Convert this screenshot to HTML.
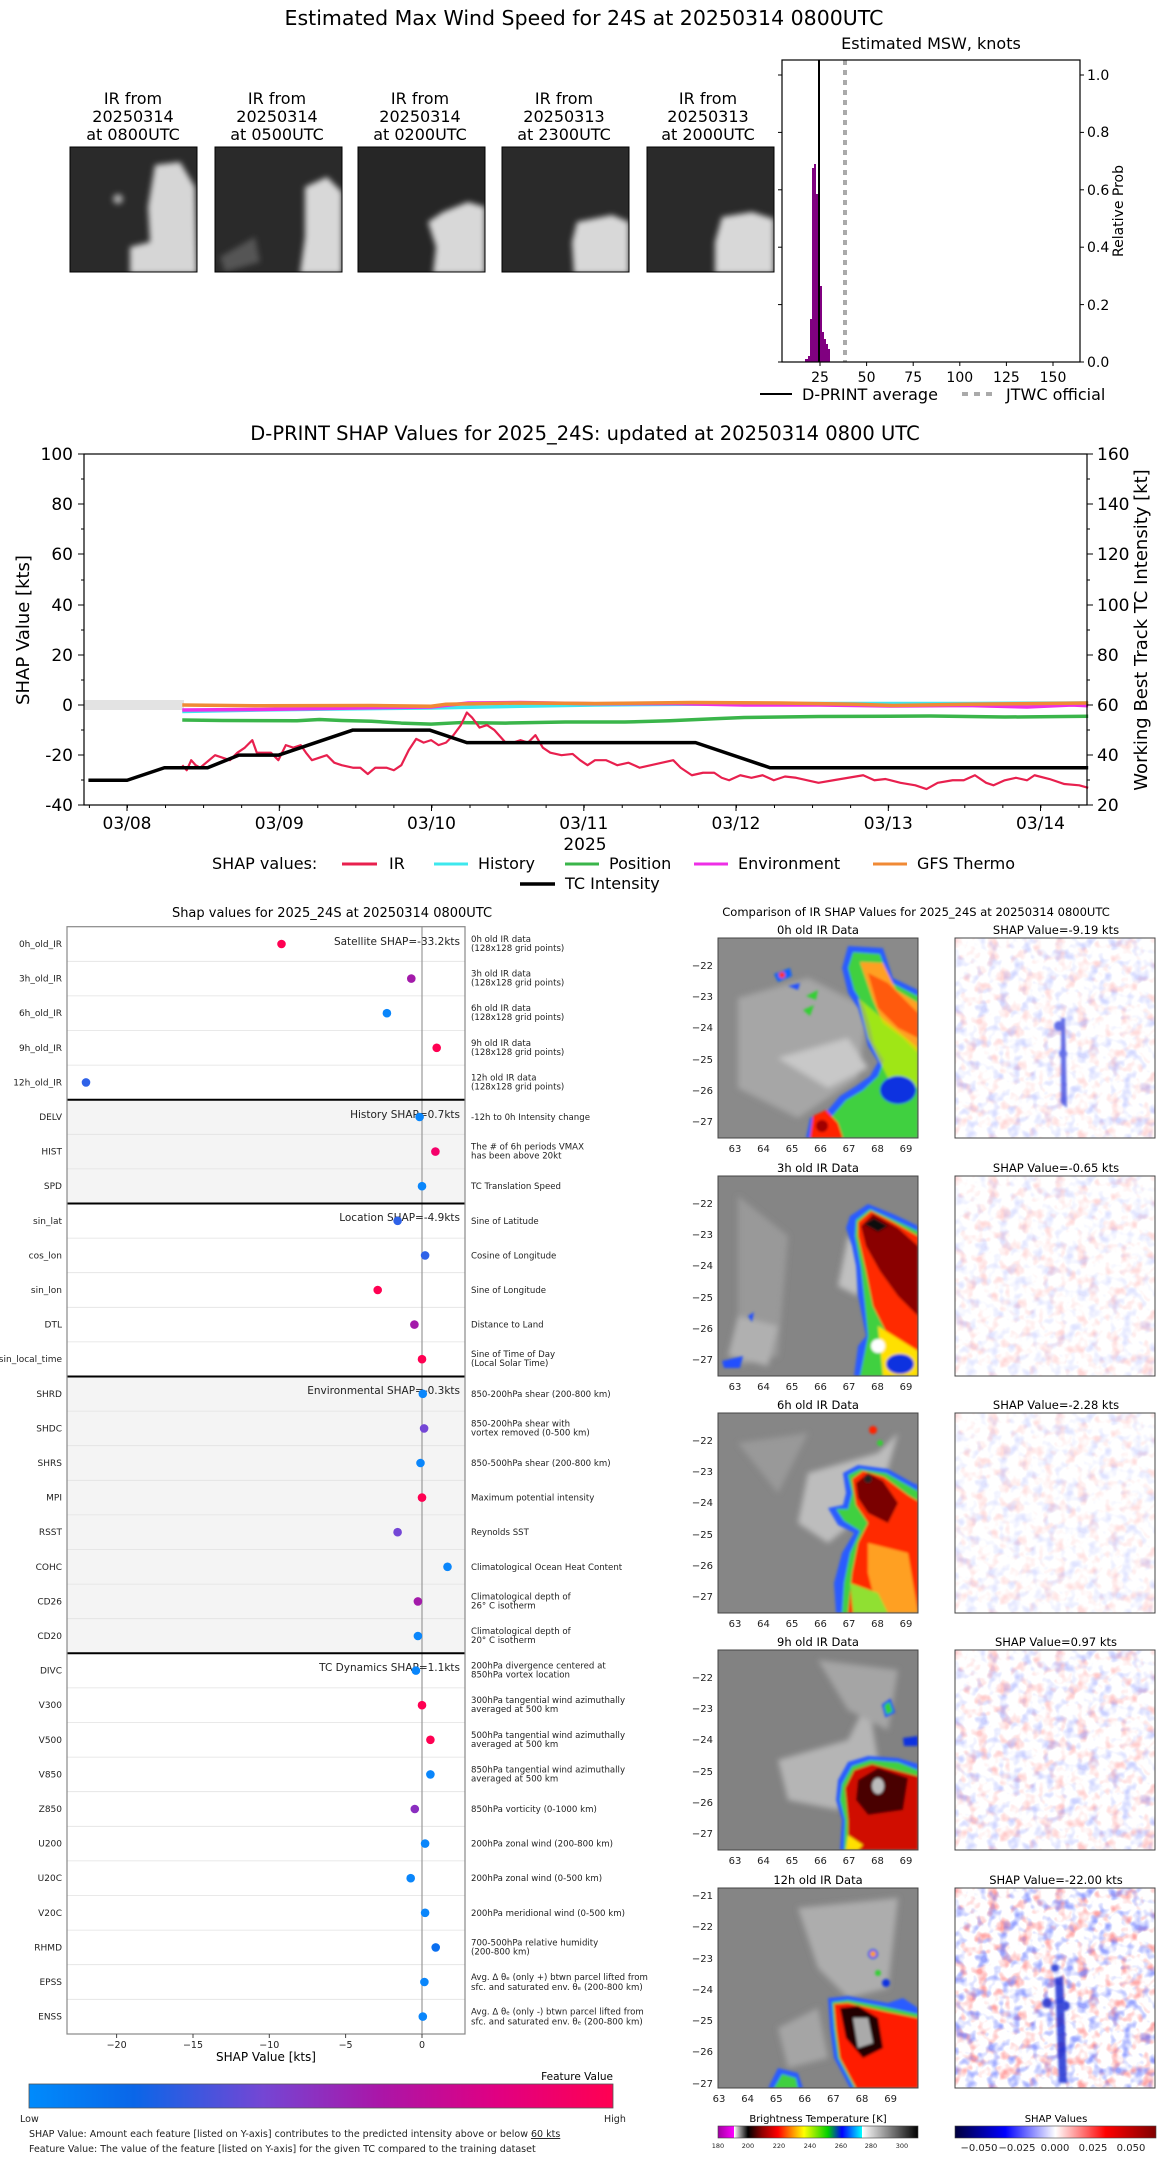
<!DOCTYPE html>
<html><head><meta charset="utf-8"><style>
html,body{margin:0;padding:0;background:#fff;}
svg{display:block;font-family:"DejaVu Sans","Liberation Sans",sans-serif;}
</style></head><body>
<svg width="1168" height="2158" viewBox="0 0 1168 2158" xmlns="http://www.w3.org/2000/svg">
<defs>
<filter id="bl" x="-20%" y="-20%" width="140%" height="140%"><feGaussianBlur stdDeviation="3"/></filter>
<filter id="bl1"><feGaussianBlur stdDeviation="1.2"/></filter>
<clipPath id="c200"><rect x="0" y="0" width="200" height="200"/></clipPath>
<clipPath id="cth"><rect x="0" y="0" width="127" height="125"/></clipPath>
<filter id="noiseR" x="0" y="0" width="100%" height="100%"><feTurbulence type="fractalNoise" baseFrequency="0.09" numOctaves="2" seed="4"/><feColorMatrix type="matrix" values="0 0 0 0 1  0 0 0 0 0.15  0 0 0 0 0.15  3.5 0 0 0 -1.75"/></filter>
<filter id="noiseB" x="0" y="0" width="100%" height="100%"><feTurbulence type="fractalNoise" baseFrequency="0.09" numOctaves="2" seed="9"/><feColorMatrix type="matrix" values="0 0 0 0 0.1  0 0 0 0 0.15  0 0 0 0 1  0 3.5 0 0 -1.75"/></filter>
<linearGradient id="fv" x1="0" x2="1"><stop offset="0" stop-color="#008bfc"/><stop offset="0.18" stop-color="#0a66e8"/><stop offset="0.4" stop-color="#7446d4"/><stop offset="0.6" stop-color="#aa16a8"/><stop offset="0.8" stop-color="#e00082"/><stop offset="1" stop-color="#ff0052"/></linearGradient>
<linearGradient id="bt" x1="0" x2="1"><stop offset="0" stop-color="#a000a0"/><stop offset="0.08" stop-color="#ff00ff"/><stop offset="0.081" stop-color="#ffffff"/><stop offset="0.15" stop-color="#000"/><stop offset="0.22" stop-color="#900000"/><stop offset="0.3" stop-color="#ff0000"/><stop offset="0.38" stop-color="#ffa000"/><stop offset="0.43" stop-color="#ffff00"/><stop offset="0.55" stop-color="#00d000"/><stop offset="0.62" stop-color="#0000ff"/><stop offset="0.72" stop-color="#00ffff"/><stop offset="0.721" stop-color="#ffffff"/><stop offset="1" stop-color="#000"/></linearGradient>
<linearGradient id="sv" x1="0" x2="1"><stop offset="0" stop-color="#00003c"/><stop offset="0.25" stop-color="#0000ff"/><stop offset="0.5" stop-color="#ffffff"/><stop offset="0.75" stop-color="#ff0000"/><stop offset="1" stop-color="#800000"/></linearGradient>
</defs>

<!-- ===== TOP ===== -->
<text x="584" y="25" font-size="20.5" text-anchor="middle">Estimated Max Wind Speed for 24S at 20250314 0800UTC</text>
<g font-size="16" text-anchor="middle">
<text x="133" y="104">IR from</text><text x="133" y="122">20250314</text><text x="133" y="140">at 0800UTC</text>
<text x="277" y="104">IR from</text><text x="277" y="122">20250314</text><text x="277" y="140">at 0500UTC</text>
<text x="420" y="104">IR from</text><text x="420" y="122">20250314</text><text x="420" y="140">at 0200UTC</text>
<text x="564" y="104">IR from</text><text x="564" y="122">20250313</text><text x="564" y="140">at 2300UTC</text>
<text x="708" y="104">IR from</text><text x="708" y="122">20250313</text><text x="708" y="140">at 2000UTC</text>
</g>
<g transform="translate(70,147)"><g clip-path="url(#cth)"><rect width="127" height="125" fill="#2a2a2a"/><g filter="url(#bl)" fill="#d6d6d6"><path d="M85 18 L110 15 L125 40 L127 127 L60 127 L60 100 L80 95 L78 60 Z"/><circle cx="48" cy="52" r="5" fill="#aaa"/></g></g><rect width="127" height="125" fill="none" stroke="#000"/></g>
<g transform="translate(215,147)"><g clip-path="url(#cth)"><rect width="127" height="125" fill="#2a2a2a"/><g filter="url(#bl)" fill="#d8d8d8"><path d="M90 40 L112 30 L127 45 L127 127 L85 127 L90 90 Z"/><path d="M5 110 L40 90 L45 115 L10 125Z" fill="#555"/></g></g><rect width="127" height="125" fill="none" stroke="#000"/></g>
<g transform="translate(358,147)"><g clip-path="url(#cth)"><rect width="127" height="125" fill="#262626"/><g filter="url(#bl)" fill="#d8d8d8"><path d="M85 65 L110 55 L127 60 L127 127 L75 127 L78 100 L70 75 Z"/></g></g><rect width="127" height="125" fill="none" stroke="#000"/></g>
<g transform="translate(502,147)"><g clip-path="url(#cth)"><rect width="127" height="125" fill="#2a2a2a"/><g filter="url(#bl)" fill="#d8d8d8"><path d="M75 75 L110 68 L127 75 L127 127 L72 127 L70 95 Z"/></g></g><rect width="127" height="125" fill="none" stroke="#000"/></g>
<g transform="translate(647,147)"><g clip-path="url(#cth)"><rect width="127" height="125" fill="#2a2a2a"/><g filter="url(#bl)" fill="#d8d8d8"><path d="M75 70 L105 65 L127 72 L127 127 L68 127 L68 95 Z"/></g></g><rect width="127" height="125" fill="none" stroke="#000"/></g>

<!-- histogram -->
<text x="931" y="49" font-size="16" text-anchor="middle">Estimated MSW, knots</text>
<g fill="#800080" transform="translate(-7,-3)">
<rect x="812" y="362" width="3" height="3"/><rect x="815" y="359" width="2" height="6"/><rect x="817" y="322" width="2" height="43"/><rect x="819" y="171" width="2" height="194"/><rect x="821" y="167" width="2" height="198"/><rect x="823" y="197" width="2" height="168"/><rect x="825" y="272" width="2" height="93"/><rect x="827" y="289" width="2" height="76"/><rect x="829" y="335" width="2" height="30"/><rect x="831" y="342" width="2" height="23"/><rect x="833" y="347" width="2" height="18"/><rect x="835" y="352" width="2" height="13"/>
</g>
<line x1="819" y1="60" x2="819" y2="362" stroke="#000" stroke-width="2"/>
<line x1="845" y1="60" x2="845" y2="362" stroke="#aaa" stroke-width="4" stroke-dasharray="5,5"/>
<rect x="782" y="60" width="298" height="302" fill="none" stroke="#000" stroke-width="1.2"/>
<g stroke="#000"><line x1="820" y1="362" x2="820" y2="366"/><line x1="866.6" y1="362" x2="866.6" y2="366"/><line x1="913.2" y1="362" x2="913.2" y2="366"/><line x1="959.8" y1="362" x2="959.8" y2="366"/><line x1="1006.4" y1="362" x2="1006.4" y2="366"/><line x1="1053" y1="362" x2="1053" y2="366"/>
<line x1="1080" y1="75" x2="1084" y2="75"/><line x1="1080" y1="132.4" x2="1084" y2="132.4"/><line x1="1080" y1="189.8" x2="1084" y2="189.8"/><line x1="1080" y1="247.2" x2="1084" y2="247.2"/><line x1="1080" y1="304.6" x2="1084" y2="304.6"/><line x1="1080" y1="362" x2="1084" y2="362"/>
<line x1="778" y1="75" x2="782" y2="75"/><line x1="778" y1="132.4" x2="782" y2="132.4"/><line x1="778" y1="189.8" x2="782" y2="189.8"/><line x1="778" y1="247.2" x2="782" y2="247.2"/><line x1="778" y1="304.6" x2="782" y2="304.6"/><line x1="778" y1="362" x2="782" y2="362"/></g>
<g font-size="14" text-anchor="middle"><text x="820" y="382">25</text><text x="866.6" y="382">50</text><text x="913.2" y="382">75</text><text x="959.8" y="382">100</text><text x="1006.4" y="382">125</text><text x="1053" y="382">150</text></g>
<g font-size="14"><text x="1087" y="80">1.0</text><text x="1087" y="137">0.8</text><text x="1087" y="195">0.6</text><text x="1087" y="252">0.4</text><text x="1087" y="310">0.2</text><text x="1087" y="367">0.0</text></g>
<text transform="translate(1123,211) rotate(-90)" font-size="14" text-anchor="middle">Relative Prob</text>
<line x1="760" y1="394" x2="792" y2="394" stroke="#000" stroke-width="2"/>
<text x="802" y="400" font-size="16">D-PRINT average</text>
<line x1="962" y1="394" x2="996" y2="394" stroke="#aaa" stroke-width="4" stroke-dasharray="6,6"/>
<text x="1006" y="400" font-size="16">JTWC official</text>

<!-- ===== MIDDLE CHART ===== -->
<text x="585" y="440" font-size="19.5" text-anchor="middle">D-PRINT SHAP Values for 2025_24S: updated at 20250314 0800 UTC</text>
<rect x="84" y="700" width="100" height="10" fill="#e3e3e3"/>
<g transform="translate(-1,705) scale(0.745,2.509)" fill="none" stroke-linejoin="round">
<polyline vector-effect="non-scaling-stroke" stroke="#3de8ee" stroke-width="3.5" points="246,2.6 350,2 450,1.6 580,1.2 700,0.5 800,0 920,-0.3 1100,-0.6 1300,-0.6 1462,-0.8"/>
<polyline vector-effect="non-scaling-stroke" stroke="#ee2fe6" stroke-width="3.5" points="246,2 350,1.8 480,1.2 580,0.8 630,-0.8 700,-1 800,-0.5 900,-0.6 1000,0 1100,0 1200,0.4 1300,0.2 1380,0.8 1440,0 1462,0.3"/>
<polyline vector-effect="non-scaling-stroke" stroke="#f08a35" stroke-width="3.5" points="246,0 350,0.3 500,0.2 580,0.5 600,-0.3 700,-0.8 800,-0.6 930,-1 1050,-0.8 1150,-0.3 1200,0.2 1300,-0.3 1400,-0.6 1462,-0.8"/>
<polyline vector-effect="non-scaling-stroke" stroke="#3ab54a" stroke-width="3.5" points="246,6 300,6.2 400,6.3 430,5.8 460,6.2 500,6.5 540,7.2 580,7.6 620,7 680,7.2 760,6.8 840,6.8 900,6.3 960,5.5 1000,5 1100,4.6 1250,4.4 1350,4.8 1462,4.5"/>
<polyline vector-effect="non-scaling-stroke" stroke="#e8204e" stroke-width="2.2" points="246,24 252,26 258,22 264,24 270,25 278,23 290,20 300,21 310,22 320,19 330,17 340,14 346,19 355,19 365,19 375,22 385,16 395,17 405,16 412,19 420,22 430,21 440,20 450,23 460,24 475,25 485,25 495,27.5 505,25 520,25 530,26 540,24 550,18 560,13.5 570,15 580,14 590,16 600,15 610,12 620,8 628,3 635,5 645,9 655,8 665,10 680,15 690,15 700,14 710,15 720,12 730,17 740,19 755,20 770,19.5 780,22 790,24 800,22 815,22 830,24 845,23 860,25 875,24 890,23 905,22 915,25 930,28 945,27 960,27 970,29 980,30 995,28 1010,29 1025,28 1040,30 1055,28.5 1070,29 1085,30 1100,31 1120,30 1140,29 1160,28 1175,30 1190,29.5 1210,31 1230,32 1245,33.5 1260,31 1280,30 1295,30 1310,28 1325,31 1335,32 1350,30 1365,29 1380,30 1390,28 1410,29.5 1430,31.5 1450,32 1462,33"/>
<polyline vector-effect="non-scaling-stroke" stroke="#000" stroke-width="3.5" points="120,30 172,30 222,25 280,25 322,20 375,20 475,10 578,10 628,15 935,15 1035,25 1462,25"/>
</g>
<rect x="84" y="454" width="1003" height="351" fill="none" stroke="#000" stroke-width="1.2"/>
<g stroke="#000">
<line x1="78" y1="454" x2="84" y2="454"/><line x1="78" y1="504" x2="84" y2="504"/><line x1="78" y1="554" x2="84" y2="554"/><line x1="78" y1="605" x2="84" y2="605"/><line x1="78" y1="655" x2="84" y2="655"/><line x1="78" y1="705" x2="84" y2="705"/><line x1="78" y1="755" x2="84" y2="755"/><line x1="78" y1="805" x2="84" y2="805"/>
<line x1="81" y1="479" x2="84" y2="479"/><line x1="81" y1="529" x2="84" y2="529"/><line x1="81" y1="580" x2="84" y2="580"/><line x1="81" y1="630" x2="84" y2="630"/><line x1="81" y1="680" x2="84" y2="680"/><line x1="81" y1="730" x2="84" y2="730"/><line x1="81" y1="780" x2="84" y2="780"/>
<line x1="1087" y1="454" x2="1093" y2="454"/><line x1="1087" y1="504" x2="1093" y2="504"/><line x1="1087" y1="554" x2="1093" y2="554"/><line x1="1087" y1="605" x2="1093" y2="605"/><line x1="1087" y1="655" x2="1093" y2="655"/><line x1="1087" y1="705" x2="1093" y2="705"/><line x1="1087" y1="755" x2="1093" y2="755"/><line x1="1087" y1="805" x2="1093" y2="805"/>
<line x1="1087" y1="479" x2="1090" y2="479"/><line x1="1087" y1="529" x2="1090" y2="529"/><line x1="1087" y1="580" x2="1090" y2="580"/><line x1="1087" y1="630" x2="1090" y2="630"/><line x1="1087" y1="680" x2="1090" y2="680"/><line x1="1087" y1="730" x2="1090" y2="730"/><line x1="1087" y1="780" x2="1090" y2="780"/>
<line x1="127" y1="805" x2="127" y2="811"/><line x1="279.3" y1="805" x2="279.3" y2="811"/><line x1="431.5" y1="805" x2="431.5" y2="811"/><line x1="583.8" y1="805" x2="583.8" y2="811"/><line x1="736" y1="805" x2="736" y2="811"/><line x1="888.3" y1="805" x2="888.3" y2="811"/><line x1="1040.5" y1="805" x2="1040.5" y2="811"/>
</g>
<line x1="88.9" y1="806.5" x2="1087" y2="806.5" stroke="#000" stroke-width="3" stroke-dasharray="1,37.06"/>
<g font-size="17" text-anchor="end"><text x="73" y="460">100</text><text x="73" y="510">80</text><text x="73" y="560">60</text><text x="73" y="611">40</text><text x="73" y="661">20</text><text x="73" y="711">0</text><text x="73" y="761">-20</text><text x="73" y="811">-40</text></g>
<g font-size="17"><text x="1097" y="460">160</text><text x="1097" y="510">140</text><text x="1097" y="560">120</text><text x="1097" y="611">100</text><text x="1097" y="661">80</text><text x="1097" y="711">60</text><text x="1097" y="761">40</text><text x="1097" y="811">20</text></g>
<g font-size="17" text-anchor="middle"><text x="127" y="829">03/08</text><text x="279.3" y="829">03/09</text><text x="431.5" y="829">03/10</text><text x="583.8" y="829">03/11</text><text x="736" y="829">03/12</text><text x="888.3" y="829">03/13</text><text x="1040.5" y="829">03/14</text>
<text x="585" y="850">2025</text></g>
<text transform="translate(29,630) rotate(-90)" font-size="18" text-anchor="middle">SHAP Value [kts]</text>
<text transform="translate(1147,630) rotate(-90)" font-size="18" text-anchor="middle">Working Best Track TC Intensity [kt]</text>
<g font-size="16">
<text x="212" y="869">SHAP values:</text>
<line x1="342" y1="864" x2="377" y2="864" stroke="#e8204e" stroke-width="3"/><text x="389" y="869">IR</text>
<line x1="434" y1="864" x2="468" y2="864" stroke="#3de8ee" stroke-width="3"/><text x="478" y="869">History</text>
<line x1="565" y1="864" x2="599" y2="864" stroke="#3ab54a" stroke-width="3"/><text x="609" y="869">Position</text>
<line x1="694" y1="864" x2="728" y2="864" stroke="#ee2fe6" stroke-width="3"/><text x="738" y="869">Environment</text>
<line x1="873" y1="864" x2="907" y2="864" stroke="#f08a35" stroke-width="3"/><text x="917" y="869">GFS Thermo</text>
<line x1="520" y1="884" x2="555" y2="884" stroke="#000" stroke-width="3.5"/><text x="565" y="889">TC Intensity</text>
</g>

<!-- ===== DOT PLOT ===== -->
<text x="332" y="917" font-size="13" text-anchor="middle">Shap values for 2025_24S at 20250314 0800UTC</text>
<rect x="67" y="1099.7" width="398" height="103.8" fill="#f4f4f4"/>
<rect x="67" y="1376.5" width="398" height="276.8" fill="#f4f4f4"/>
<g stroke="#e2e2e2" stroke-width="0.8">
<line x1="67" y1="961.3" x2="465" y2="961.3"/><line x1="67" y1="995.9" x2="465" y2="995.9"/><line x1="67" y1="1030.5" x2="465" y2="1030.5"/><line x1="67" y1="1065.1" x2="465" y2="1065.1"/><line x1="67" y1="1134.3" x2="465" y2="1134.3"/><line x1="67" y1="1168.9" x2="465" y2="1168.9"/><line x1="67" y1="1238.1" x2="465" y2="1238.1"/><line x1="67" y1="1272.7" x2="465" y2="1272.7"/><line x1="67" y1="1307.3" x2="465" y2="1307.3"/><line x1="67" y1="1341.9" x2="465" y2="1341.9"/><line x1="67" y1="1411.1" x2="465" y2="1411.1"/><line x1="67" y1="1445.7" x2="465" y2="1445.7"/><line x1="67" y1="1480.3" x2="465" y2="1480.3"/><line x1="67" y1="1514.9" x2="465" y2="1514.9"/><line x1="67" y1="1549.5" x2="465" y2="1549.5"/><line x1="67" y1="1584.1" x2="465" y2="1584.1"/><line x1="67" y1="1618.7" x2="465" y2="1618.7"/><line x1="67" y1="1687.9" x2="465" y2="1687.9"/><line x1="67" y1="1722.5" x2="465" y2="1722.5"/><line x1="67" y1="1757.1" x2="465" y2="1757.1"/><line x1="67" y1="1791.7" x2="465" y2="1791.7"/><line x1="67" y1="1826.3" x2="465" y2="1826.3"/><line x1="67" y1="1860.9" x2="465" y2="1860.9"/><line x1="67" y1="1895.5" x2="465" y2="1895.5"/><line x1="67" y1="1930.1" x2="465" y2="1930.1"/><line x1="67" y1="1964.7" x2="465" y2="1964.7"/><line x1="67" y1="1999.3" x2="465" y2="1999.3"/>
</g>
<line x1="422" y1="926.7" x2="422" y2="2034" stroke="#999" stroke-width="1.2"/>
<g stroke="#000" stroke-width="2"><line x1="67" y1="1099.7" x2="465" y2="1099.7"/><line x1="67" y1="1203.5" x2="465" y2="1203.5"/><line x1="67" y1="1376.5" x2="465" y2="1376.5"/><line x1="67" y1="1653.3" x2="465" y2="1653.3"/></g>
<rect x="67" y="926.7" width="398" height="1107.3" fill="none" stroke="#888" stroke-width="1.2"/>
<g font-size="10.5" text-anchor="end" fill="#222">
<text x="460" y="945">Satellite SHAP=-33.2kts</text>
<text x="460" y="1118">History SHAP=0.7kts</text>
<text x="460" y="1221">Location SHAP=-4.9kts</text>
<text x="460" y="1394">Environmental SHAP=-0.3kts</text>
<text x="460" y="1671">TC Dynamics SHAP=1.1kts</text>
</g>
<g>
<circle cx="281.5" cy="944" r="4.3" fill="#ff0052"/>
<circle cx="411.3" cy="978.6" r="4.3" fill="#a31aaa"/>
<circle cx="386.9" cy="1013.2" r="4.3" fill="#0a86fb"/>
<circle cx="436.7" cy="1047.8" r="4.3" fill="#ff0052"/>
<circle cx="86" cy="1082.4" r="4.3" fill="#2f62e8"/>
<circle cx="419.6" cy="1117" r="4.3" fill="#0a86fb"/>
<circle cx="435.4" cy="1151.6" r="4.3" fill="#f5006a"/>
<circle cx="422" cy="1186.2" r="4.3" fill="#0a86fb"/>
<circle cx="397.6" cy="1220.8" r="4.3" fill="#2f62e8"/>
<circle cx="425.1" cy="1255.4" r="4.3" fill="#2f62e8"/>
<circle cx="377.7" cy="1290" r="4.3" fill="#ff0052"/>
<circle cx="414.4" cy="1324.6" r="4.3" fill="#a31aaa"/>
<circle cx="422" cy="1359.2" r="4.3" fill="#ff0052"/>
<circle cx="422.8" cy="1393.8" r="4.3" fill="#0a86fb"/>
<circle cx="424.1" cy="1428.4" r="4.3" fill="#7446d6"/>
<circle cx="420.5" cy="1463" r="4.3" fill="#0a86fb"/>
<circle cx="422" cy="1497.6" r="4.3" fill="#ff0052"/>
<circle cx="397.6" cy="1532.2" r="4.3" fill="#7446d6"/>
<circle cx="447.5" cy="1566.8" r="4.3" fill="#0a86fb"/>
<circle cx="417.9" cy="1601.4" r="4.3" fill="#a31aaa"/>
<circle cx="417.9" cy="1636" r="4.3" fill="#0a86fb"/>
<circle cx="415.9" cy="1670.6" r="4.3" fill="#0a86fb"/>
<circle cx="422" cy="1705.2" r="4.3" fill="#ff0052"/>
<circle cx="430.4" cy="1739.8" r="4.3" fill="#ff0052"/>
<circle cx="430.4" cy="1774.4" r="4.3" fill="#0a86fb"/>
<circle cx="414.8" cy="1809" r="4.3" fill="#8a2ec0"/>
<circle cx="425.1" cy="1843.6" r="4.3" fill="#0a86fb"/>
<circle cx="410.7" cy="1878.2" r="4.3" fill="#0a86fb"/>
<circle cx="425.1" cy="1912.8" r="4.3" fill="#0a86fb"/>
<circle cx="435.7" cy="1947.4" r="4.3" fill="#0a6ff0"/>
<circle cx="424.4" cy="1982" r="4.3" fill="#0a86fb"/>
<circle cx="422.8" cy="2016.6" r="4.3" fill="#0a86fb"/>
</g>
<g font-size="9" text-anchor="end" fill="#222">
<text x="62" y="947">0h_old_IR</text><text x="62" y="981.6">3h_old_IR</text><text x="62" y="1016.2">6h_old_IR</text><text x="62" y="1050.8">9h_old_IR</text><text x="62" y="1085.4">12h_old_IR</text>
<text x="62" y="1120">DELV</text><text x="62" y="1154.6">HIST</text><text x="62" y="1189.2">SPD</text>
<text x="62" y="1223.8">sin_lat</text><text x="62" y="1258.4">cos_lon</text><text x="62" y="1293">sin_lon</text><text x="62" y="1327.6">DTL</text><text x="62" y="1362.2">sin_local_time</text>
<text x="62" y="1396.8">SHRD</text><text x="62" y="1431.4">SHDC</text><text x="62" y="1466">SHRS</text><text x="62" y="1500.6">MPI</text><text x="62" y="1535.2">RSST</text><text x="62" y="1569.8">COHC</text><text x="62" y="1604.4">CD26</text><text x="62" y="1639">CD20</text>
<text x="62" y="1673.6">DIVC</text><text x="62" y="1708.2">V300</text><text x="62" y="1742.8">V500</text><text x="62" y="1777.4">V850</text><text x="62" y="1812">Z850</text><text x="62" y="1846.6">U200</text><text x="62" y="1881.2">U20C</text><text x="62" y="1915.8">V20C</text><text x="62" y="1950.4">RHMD</text><text x="62" y="1985">EPSS</text><text x="62" y="2019.6">ENSS</text>
</g>
<g font-size="8.6" fill="#222">
<text x="471" y="942">0h old IR data</text><text x="471" y="951">(128x128 grid points)</text>
<text x="471" y="976.6">3h old IR data</text><text x="471" y="985.6">(128x128 grid points)</text>
<text x="471" y="1011.2">6h old IR data</text><text x="471" y="1020.2">(128x128 grid points)</text>
<text x="471" y="1045.8">9h old IR data</text><text x="471" y="1054.8">(128x128 grid points)</text>
<text x="471" y="1080.4">12h old IR data</text><text x="471" y="1089.4">(128x128 grid points)</text>
<text x="471" y="1120">-12h to 0h Intensity change</text>
<text x="471" y="1149.6">The # of 6h periods VMAX</text><text x="471" y="1158.6">has been above 20kt</text>
<text x="471" y="1189.2">TC Translation Speed</text>
<text x="471" y="1223.8">Sine of Latitude</text>
<text x="471" y="1258.4">Cosine of Longitude</text>
<text x="471" y="1293">Sine of Longitude</text>
<text x="471" y="1327.6">Distance to Land</text>
<text x="471" y="1357.2">Sine of Time of Day</text><text x="471" y="1366.2">(Local Solar Time)</text>
<text x="471" y="1396.8">850-200hPa shear (200-800 km)</text>
<text x="471" y="1426.4">850-200hPa shear with</text><text x="471" y="1435.4">vortex removed (0-500 km)</text>
<text x="471" y="1466">850-500hPa shear (200-800 km)</text>
<text x="471" y="1500.6">Maximum potential intensity</text>
<text x="471" y="1535.2">Reynolds SST</text>
<text x="471" y="1569.8">Climatological Ocean Heat Content</text>
<text x="471" y="1599.4">Climatological depth of</text><text x="471" y="1608.4">26° C isotherm</text>
<text x="471" y="1634">Climatological depth of</text><text x="471" y="1643">20° C isotherm</text>
<text x="471" y="1668.6">200hPa divergence centered at</text><text x="471" y="1677.6">850hPa vortex location</text>
<text x="471" y="1703.2">300hPa tangential wind azimuthally</text><text x="471" y="1712.2">averaged at 500 km</text>
<text x="471" y="1737.8">500hPa tangential wind azimuthally</text><text x="471" y="1746.8">averaged at 500 km</text>
<text x="471" y="1772.4">850hPa tangential wind azimuthally</text><text x="471" y="1781.4">averaged at 500 km</text>
<text x="471" y="1812">850hPa vorticity (0-1000 km)</text>
<text x="471" y="1846.6">200hPa zonal wind (200-800 km)</text>
<text x="471" y="1881.2">200hPa zonal wind (0-500 km)</text>
<text x="471" y="1915.8">200hPa meridional wind (0-500 km)</text>
<text x="471" y="1945.4">700-500hPa relative humidity</text><text x="471" y="1954.4">(200-800 km)</text>
<text x="471" y="1980">Avg. Δ θₑ (only +) btwn parcel lifted from</text><text x="471" y="1990">sfc. and saturated env. θₑ (200-800 km)</text>
<text x="471" y="2014.6">Avg. Δ θₑ (only -) btwn parcel lifted from</text><text x="471" y="2024.6">sfc. and saturated env. θₑ (200-800 km)</text>
</g>
<g stroke="#444"><line x1="116.6" y1="2034" x2="116.6" y2="2038"/><line x1="193" y1="2034" x2="193" y2="2038"/><line x1="269.3" y1="2034" x2="269.3" y2="2038"/><line x1="345.6" y1="2034" x2="345.6" y2="2038"/><line x1="422" y1="2034" x2="422" y2="2038"/></g>
<g font-size="9.5" text-anchor="middle" fill="#222"><text x="116.6" y="2048">−20</text><text x="193" y="2048">−15</text><text x="269.3" y="2048">−10</text><text x="345.6" y="2048">−5</text><text x="422" y="2048">0</text></g>
<text x="266" y="2061" font-size="12" text-anchor="middle">SHAP Value [kts]</text>
<text x="613" y="2080" font-size="10.5" text-anchor="end">Feature Value</text>
<rect x="29" y="2084" width="584" height="24" fill="url(#fv)" stroke="#555" stroke-width="0.8"/>
<g font-size="9.5" fill="#222"><text x="20" y="2122">Low</text><text x="604" y="2122">High</text>
<text x="29" y="2137">SHAP Value: Amount each feature [listed on Y-axis] contributes to the predicted intensity above or below <tspan text-decoration="underline">60 kts</tspan></text>
<text x="29" y="2152">Feature Value: The value of the feature [listed on Y-axis] for the given TC compared to the training dataset</text></g>

<!-- ===== RIGHT IR PANELS ===== -->
<text x="916" y="916" font-size="11.5" text-anchor="middle">Comparison of IR SHAP Values for 2025_24S at 20250314 0800UTC</text>

<text x="818" y="934" font-size="11.5" text-anchor="middle">0h old IR Data</text>
<g transform="translate(718,938)"><g clip-path="url(#c200)"><rect width="200" height="200" fill="#8a8a8a"/>
<g filter="url(#bl)"><path d="M20 60 L90 40 L150 70 L140 140 L80 180 L20 150Z" fill="#a6a6a6"/><path d="M60 120 L130 100 L150 130 L110 150Z" fill="#c8c8c8"/></g>
<g filter="url(#bl1)"><path d="M130 8 L165 10 L175 40 L200 52 L200 200 L88 200 L92 180 L110 172 L122 158 L138 148 L152 138 L160 124 L150 108 L146 90 L140 70 L130 55 L124 30 Z" fill="#2c5cff"/>
<path d="M135 14 L162 16 L172 44 L200 58 L200 200 L96 200 L114 178 L128 162 L145 152 L160 138 L166 122 L156 106 L152 88 L146 68 L136 52 L130 30Z" fill="#40d040"/>
<path d="M142 24 L165 25 L178 52 L200 65 L200 115 L185 100 L165 85 L155 62 Z" fill="#ffa020"/><path d="M150 35 L170 45 L200 75 L200 100 L180 90 L160 70Z" fill="#ff5a10"/>
<path d="M140 60 L200 110 L200 150 L170 140 L150 100Z" fill="#c8f000" opacity="0.7"/>
<ellipse cx="180" cy="152" rx="18" ry="14" fill="#1030e0"/>
<path d="M92 200 L95 178 L108 172 L120 185 L125 200Z" fill="#ff2000"/><circle cx="104" cy="188" r="6" fill="#a00000"/>
<path d="M56 36 L72 30 L74 38 L60 44Z" fill="#1060ff"/><circle cx="64" cy="37" r="3" fill="#ff3000"/>
<path d="M70 48 L82 45 L80 52Z" fill="#2050ff"/><path d="M88 58 L100 52 L98 62Z" fill="#30d030"/><path d="M85 72 L96 67 L92 78Z" fill="#30d030"/>
</g></g><rect width="200" height="200" fill="none" stroke="#444"/></g>
<text x="1056" y="934" font-size="11.5" text-anchor="middle">SHAP Value=-9.19 kts</text>
<g transform="translate(955,938)"><g clip-path="url(#c200)"><rect width="200" height="200" fill="#fff"/><rect width="200" height="200" filter="url(#noiseR)" opacity="0.25"/><rect width="200" height="200" filter="url(#noiseB)" opacity="0.25"/>
<g filter="url(#bl1)" fill="#3040e0" opacity="0.75"><path d="M106 80 L110 80 L112 170 L106 165Z"/><circle cx="108" cy="116" r="4"/><circle cx="104" cy="88" r="5"/></g></g><rect width="200" height="200" fill="none" stroke="#444"/></g>

<text x="818" y="1172" font-size="11.5" text-anchor="middle">3h old IR Data</text>
<g transform="translate(718,1176)"><g clip-path="url(#c200)"><rect width="200" height="200" fill="#858585"/>
<g filter="url(#bl)"><path d="M20 20 L70 60 L60 180 L20 190Z" fill="#999"/><path d="M130 60 L150 70 L140 120 L120 110Z" fill="#c0c0c0"/><path d="M20 140 L60 150 L50 190 L10 180Z" fill="#b0b0b0"/></g>
<g filter="url(#bl1)"><path d="M132 40 L150 28 L175 38 L190 45 L200 50 L200 200 L136 200 L140 170 L148 160 L144 140 L140 120 L138 90 L134 70 L128 52 Z" fill="#2c5cff"/>
<path d="M138 44 L152 33 L174 43 L200 55 L200 200 L142 200 L150 160 L147 130 L143 92 L137 60 Z" fill="#40d040"/>
<path d="M140 46 L153 35 L175 46 L200 60 L200 190 L170 160 L155 130 L148 95 L140 60Z" fill="#ff2a00"/>
<path d="M143 50 L155 38 L180 52 L200 70 L200 140 L180 120 L162 95 L148 70Z" fill="#8a0000"/><path d="M146 48 L156 42 L170 50 L160 56Z" fill="#111"/>
<path d="M160 150 L200 175 L200 200 L165 200Z" fill="#ffe000"/><ellipse cx="182" cy="188" rx="14" ry="10" fill="#1030e0"/><circle cx="160" cy="170" r="7" fill="#fff"/>
<path d="M4 185 L25 180 L22 192 L6 192Z" fill="#2050ff"/><path d="M30 140 L36 136 L34 146Z" fill="#2050ff"/>
</g></g><rect width="200" height="200" fill="none" stroke="#444"/></g>
<text x="1056" y="1172" font-size="11.5" text-anchor="middle">SHAP Value=-0.65 kts</text>
<g transform="translate(955,1176)"><g clip-path="url(#c200)"><rect width="200" height="200" fill="#fff"/><rect width="200" height="200" filter="url(#noiseR)" opacity="0.25"/><rect width="200" height="200" filter="url(#noiseB)" opacity="0.18"/></g><rect width="200" height="200" fill="none" stroke="#444"/></g>

<text x="818" y="1409" font-size="11.5" text-anchor="middle">6h old IR Data</text>
<g transform="translate(718,1413)"><g clip-path="url(#c200)"><rect width="200" height="200" fill="#868686"/>
<g filter="url(#bl)"><path d="M90 60 L160 40 L180 20 L160 90 L110 130 L80 110Z" fill="#bdbdbd"/><path d="M20 30 L90 20 L60 80Z" fill="#999"/></g>
<g filter="url(#bl1)"><path d="M125 60 L140 52 L170 56 L195 70 L200 72 L200 200 L118 200 L116 170 L124 140 L136 120 L120 112 L110 95 L125 92 L128 80Z" fill="#2c5cff"/>
<path d="M130 62 L142 56 L168 60 L200 78 L200 200 L124 200 L126 170 L132 140 L142 118 L126 108 L118 96 L130 96 L134 80Z" fill="#40d040"/>
<path d="M134 66 L145 58 L166 64 L190 82 L200 88 L200 200 L130 200 L134 160 L140 130 L150 110 L138 92Z" fill="#ff2a00"/>
<path d="M138 70 L150 60 L165 68 L180 90 L170 110 L150 100 L140 85Z" fill="#7a0000"/><circle cx="150" cy="66" r="4" fill="#222"/>
<path d="M150 130 L190 140 L200 200 L160 200 L150 160Z" fill="#ffa020"/><path d="M132 170 L160 180 L170 200 L135 200Z" fill="#90e030"/>
<circle cx="155" cy="17" r="4" fill="#ff2000"/><circle cx="162" cy="30" r="3" fill="#30d030"/>
</g></g><rect width="200" height="200" fill="none" stroke="#444"/></g>
<text x="1056" y="1409" font-size="11.5" text-anchor="middle">SHAP Value=-2.28 kts</text>
<g transform="translate(955,1413)"><g clip-path="url(#c200)"><rect width="200" height="200" fill="#fff"/><rect width="200" height="200" filter="url(#noiseR)" opacity="0.22"/><rect width="200" height="200" filter="url(#noiseB)" opacity="0.18"/></g><rect width="200" height="200" fill="none" stroke="#444"/></g>

<text x="818" y="1646" font-size="11.5" text-anchor="middle">9h old IR Data</text>
<g transform="translate(718,1650)"><g clip-path="url(#c200)"><rect width="200" height="200" fill="#828282"/>
<g filter="url(#bl)"><path d="M60 110 L130 90 L150 50 L160 110 L120 160 L70 150Z" fill="#b5b5b5"/><path d="M100 10 L180 20 L170 80 L130 60Z" fill="#a5a5a5"/></g>
<g filter="url(#bl1)"><path d="M120 130 L130 112 L150 106 L180 108 L200 114 L200 200 L122 200 L124 170 L118 150Z" fill="#2c5cff"/>
<path d="M124 134 L134 116 L152 110 L180 112 L200 120 L200 200 L126 200 L127 170 L122 150Z" fill="#40d040"/>
<path d="M127 138 L136 120 L154 114 L200 126 L200 200 L130 200 L130 170 Z" fill="#d01000"/>
<path d="M140 130 L160 118 L190 128 L185 160 L150 165 L138 150Z" fill="#4a0000"/><ellipse cx="160" cy="136" rx="6" ry="8" fill="#bbb"/>
<path d="M130 185 L145 195 L140 200 L128 200Z" fill="#ffe000"/>
<path d="M165 55 L172 50 L176 62 L168 66Z" fill="#30d030" stroke="#2050ff" stroke-width="2"/><path d="M185 88 L200 86 L200 96 L186 96Z" fill="#1030e0"/>
</g></g><rect width="200" height="200" fill="none" stroke="#444"/></g>
<text x="1056" y="1646" font-size="11.5" text-anchor="middle">SHAP Value=0.97 kts</text>
<g transform="translate(955,1650)"><g clip-path="url(#c200)"><rect width="200" height="200" fill="#fff"/><rect width="200" height="200" filter="url(#noiseR)" opacity="0.35"/><rect width="200" height="200" filter="url(#noiseB)" opacity="0.3"/></g><rect width="200" height="200" fill="none" stroke="#444"/></g>

<text x="818" y="1884" font-size="11.5" text-anchor="middle">12h old IR Data</text>
<g transform="translate(718,1888)"><g clip-path="url(#c200)"><rect width="200" height="200" fill="#858585"/>
<g filter="url(#bl)"><path d="M80 20 L180 10 L170 100 L130 110 L100 80Z" fill="#adadad"/><path d="M60 140 L100 120 L110 170 L70 180Z" fill="#a5a5a5"/></g>
<g filter="url(#bl1)"><path d="M110 110 L130 108 L170 115 L185 110 L200 120 L200 200 L132 200 L116 170 L112 140Z" fill="#2c5cff"/>
<path d="M114 114 L130 112 L168 119 L200 126 L200 200 L136 200 L120 170 L116 140Z" fill="#40d040"/>
<path d="M116 116 L130 115 L165 123 L200 130 L200 200 L138 200 L122 170 L118 140Z" fill="#ff1a00"/>
<path d="M122 120 L140 118 L160 130 L165 160 L145 170 L128 150Z" fill="#200000"/><path d="M135 130 L150 130 L155 155 L140 160Z" fill="#aaa"/>
<path d="M50 200 L60 180 L80 185 L85 200Z" fill="#2c5cff"/><path d="M56 200 L64 186 L78 190 L80 200Z" fill="#40d040"/>
<circle cx="155" cy="66" r="4" fill="#ffa000" stroke="#2050ff" stroke-width="2"/><circle cx="160" cy="85" r="3" fill="#30d030"/><circle cx="168" cy="95" r="4" fill="#1030e0"/>
</g></g><rect width="200" height="200" fill="none" stroke="#444"/></g>
<text x="1056" y="1884" font-size="11.5" text-anchor="middle">SHAP Value=-22.00 kts</text>
<g transform="translate(955,1888)"><g clip-path="url(#c200)"><rect width="200" height="200" fill="#fff"/><rect width="200" height="200" filter="url(#noiseR)" opacity="0.6"/><rect width="200" height="200" filter="url(#noiseB)" opacity="0.6"/>
<g filter="url(#bl1)" fill="#1020d0" opacity="0.8"><path d="M100 90 L108 88 L112 195 L104 195Z"/><circle cx="92" cy="115" r="5"/><circle cx="110" cy="118" r="5"/><circle cx="100" cy="80" r="4"/></g></g><rect width="200" height="200" fill="none" stroke="#444"/></g>

<g font-size="10" text-anchor="end" fill="#222">
<text x="713" y="969">−22</text><text x="713" y="1000">−23</text><text x="713" y="1031">−24</text><text x="713" y="1063">−25</text><text x="713" y="1094">−26</text><text x="713" y="1125">−27</text>
<text x="713" y="1207">−22</text><text x="713" y="1238">−23</text><text x="713" y="1269">−24</text><text x="713" y="1301">−25</text><text x="713" y="1332">−26</text><text x="713" y="1363">−27</text>
<text x="713" y="1444">−22</text><text x="713" y="1475">−23</text><text x="713" y="1506">−24</text><text x="713" y="1538">−25</text><text x="713" y="1569">−26</text><text x="713" y="1600">−27</text>
<text x="713" y="1681">−22</text><text x="713" y="1712">−23</text><text x="713" y="1743">−24</text><text x="713" y="1775">−25</text><text x="713" y="1806">−26</text><text x="713" y="1837">−27</text>
<text x="713" y="1899">−21</text><text x="713" y="1930">−22</text><text x="713" y="1962">−23</text><text x="713" y="1993">−24</text><text x="713" y="2024">−25</text><text x="713" y="2055">−26</text><text x="713" y="2087">−27</text>
</g>
<g font-size="10" text-anchor="middle" fill="#222">
<text x="735" y="1152">63</text><text x="763.5" y="1152">64</text><text x="792" y="1152">65</text><text x="820.5" y="1152">66</text><text x="849" y="1152">67</text><text x="877.5" y="1152">68</text><text x="906" y="1152">69</text>
<text x="735" y="1390">63</text><text x="763.5" y="1390">64</text><text x="792" y="1390">65</text><text x="820.5" y="1390">66</text><text x="849" y="1390">67</text><text x="877.5" y="1390">68</text><text x="906" y="1390">69</text>
<text x="735" y="1627">63</text><text x="763.5" y="1627">64</text><text x="792" y="1627">65</text><text x="820.5" y="1627">66</text><text x="849" y="1627">67</text><text x="877.5" y="1627">68</text><text x="906" y="1627">69</text>
<text x="735" y="1864">63</text><text x="763.5" y="1864">64</text><text x="792" y="1864">65</text><text x="820.5" y="1864">66</text><text x="849" y="1864">67</text><text x="877.5" y="1864">68</text><text x="906" y="1864">69</text>
<text x="719" y="2102">63</text><text x="747.6" y="2102">64</text><text x="776.2" y="2102">65</text><text x="804.8" y="2102">66</text><text x="833.4" y="2102">67</text><text x="862" y="2102">68</text><text x="890.6" y="2102">69</text>
</g>
<text x="818" y="2122" font-size="10" text-anchor="middle">Brightness Temperature [K]</text>
<rect x="718" y="2126" width="200" height="12" fill="url(#bt)" stroke="#444" stroke-width="0.6"/>
<g font-size="6.5" text-anchor="middle" fill="#222"><text x="718" y="2148">180</text><text x="748" y="2148">200</text><text x="779" y="2148">220</text><text x="810" y="2148">240</text><text x="841" y="2148">260</text><text x="871" y="2148">280</text><text x="902" y="2148">300</text></g>
<text x="1056" y="2122" font-size="10" text-anchor="middle">SHAP Values</text>
<rect x="955" y="2126" width="201" height="12" fill="url(#sv)" stroke="#444" stroke-width="0.6"/>
<g font-size="10" text-anchor="middle" fill="#222"><text x="979" y="2151">−0.050</text><text x="1017" y="2151">−0.025</text><text x="1055" y="2151">0.000</text><text x="1093" y="2151">0.025</text><text x="1131" y="2151">0.050</text></g>
</svg>
</body></html>
